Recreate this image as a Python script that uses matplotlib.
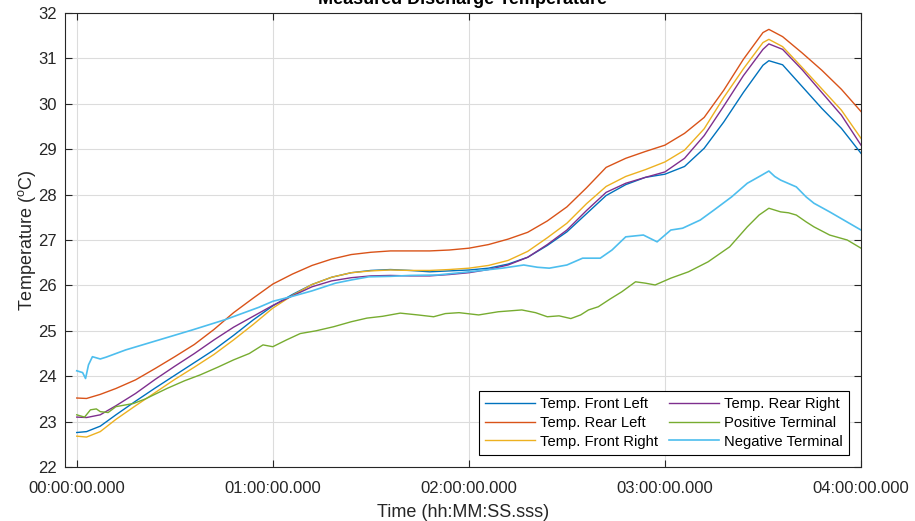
import matplotlib
matplotlib.use("Agg")
from matplotlib import pyplot as plt

# time in hours
t_smooth = [0, 0.05, 0.12, 0.2, 0.3, 0.4, 0.5, 0.6, 0.7, 0.8, 0.9, 1.0, 1.1, 1.2, 1.3,
            1.4, 1.5, 1.6, 1.7, 1.8, 1.9, 2.0, 2.1, 2.2, 2.3, 2.4, 2.5, 2.6, 2.7, 2.8,
            2.9, 3.0, 3.1, 3.2, 3.3, 3.4, 3.5, 3.53, 3.6, 3.7, 3.8, 3.9, 4.0]

front_left = [22.76, 22.78, 22.9, 23.15, 23.45, 23.74, 24.02, 24.3, 24.58, 24.9, 25.24,
              25.55, 25.8, 26.02, 26.18, 26.28, 26.33, 26.35, 26.33, 26.3, 26.32, 26.34,
              26.38, 26.47, 26.62, 26.88, 27.18, 27.58, 27.98, 28.22, 28.38, 28.45, 28.62,
              29.02, 29.6, 30.25, 30.85, 30.95, 30.86, 30.38, 29.9, 29.46, 28.91]
rear_left = [23.52, 23.51, 23.6, 23.73, 23.92, 24.17, 24.43, 24.7, 25.03, 25.4, 25.72,
             26.03, 26.25, 26.44, 26.58, 26.68, 26.73, 26.76, 26.76, 26.76, 26.78, 26.82,
             26.9, 27.02, 27.17, 27.42, 27.73, 28.15, 28.6, 28.8, 28.95, 29.09, 29.35,
             29.7, 30.3, 30.98, 31.57, 31.64, 31.48, 31.12, 30.74, 30.32, 29.83]
front_right = [22.68, 22.66, 22.78, 23.05, 23.35, 23.64, 23.93, 24.2, 24.48, 24.8, 25.14,
               25.5, 25.78, 26.02, 26.18, 26.28, 26.32, 26.34, 26.33, 26.33, 26.35, 26.38,
               26.44, 26.55, 26.75, 27.05, 27.37, 27.8, 28.18, 28.4, 28.55, 28.72, 28.98,
               29.45, 30.14, 30.77, 31.35, 31.42, 31.26, 30.8, 30.33, 29.86, 29.24]
rear_right = [23.1, 23.09, 23.15, 23.35, 23.62, 23.93, 24.22, 24.5, 24.8, 25.08, 25.32,
              25.56, 25.77, 25.97, 26.1, 26.17, 26.21, 26.22, 26.21, 26.21, 26.24, 26.28,
              26.35, 26.45, 26.62, 26.9, 27.22, 27.65, 28.05, 28.25, 28.38, 28.5, 28.8,
              29.3, 29.95, 30.62, 31.2, 31.32, 31.2, 30.75, 30.25, 29.75, 29.09]

t_pos = [0, 0.04, 0.07, 0.1, 0.12, 0.16, 0.2, 0.29, 0.35, 0.46, 0.55, 0.63, 0.72, 0.8,
         0.88, 0.95, 1.0, 1.07, 1.14, 1.22, 1.31, 1.4, 1.48, 1.56, 1.65, 1.74, 1.82,
         1.88, 1.95, 2.05, 2.15, 2.27, 2.34, 2.4, 2.46, 2.52, 2.57, 2.61, 2.66, 2.72,
         2.78, 2.85, 2.9, 2.95, 3.03, 3.12, 3.22, 3.28, 3.33, 3.42, 3.48, 3.53, 3.59,
         3.63, 3.67, 3.72, 3.76, 3.84, 3.93, 4.0]
positive_terminal = [23.15, 23.1, 23.26, 23.28, 23.22, 23.2, 23.33, 23.4, 23.5, 23.73,
                     23.9, 24.03, 24.2, 24.36, 24.5, 24.69, 24.65, 24.8, 24.94, 25.0,
                     25.09, 25.2, 25.28, 25.32, 25.39, 25.35, 25.31, 25.38, 25.4, 25.35,
                     25.42, 25.46, 25.4, 25.31, 25.33, 25.27, 25.35, 25.46, 25.53, 25.7,
                     25.86, 26.08, 26.05, 26.01, 26.16, 26.3, 26.52, 26.7, 26.85, 27.29,
                     27.55, 27.7, 27.62, 27.6, 27.55, 27.4, 27.29, 27.11, 27.0, 26.82]

t_neg = [0, 0.03, 0.045, 0.06, 0.08, 0.12, 0.15, 0.25, 0.42, 0.59, 0.76, 0.93, 1.0, 1.1,
         1.2, 1.32, 1.4, 1.49, 1.6, 1.7, 1.84, 2.0, 2.17, 2.28, 2.35, 2.41, 2.5, 2.58,
         2.67, 2.73, 2.8, 2.89, 2.96, 3.03, 3.09, 3.18, 3.25, 3.34, 3.42, 3.49, 3.53,
         3.56, 3.59, 3.67, 3.72, 3.76, 3.84, 3.92, 4.0]
negative_terminal = [24.12, 24.08, 23.95, 24.25, 24.43, 24.38, 24.42, 24.58, 24.8, 25.02,
                     25.25, 25.52, 25.65, 25.76, 25.88, 26.05, 26.12, 26.19, 26.2, 26.22,
                     26.23, 26.3, 26.38, 26.45, 26.4, 26.38, 26.45, 26.6, 26.6, 26.78,
                     27.07, 27.11, 26.96, 27.22, 27.26, 27.44, 27.66, 27.95, 28.25, 28.42,
                     28.52, 28.4, 28.32, 28.17, 27.95, 27.81, 27.62, 27.42, 27.22]

tick_hours = [0, 1, 2, 3, 4]
tick_labels = ['00:00:00.000', '01:00:00.000', '02:00:00.000', '03:00:00.000', '04:00:00.000']

plt.rcParams['font.family'] = ['Liberation Sans', 'DejaVu Sans']
dark = '#262626'

fig = plt.figure(figsize=(9.15, 5.21), dpi=100)
ax = fig.add_axes([0.071, 0.1036, 0.870, 0.8714])

ax.plot(t_smooth, front_left, color='#0072BD', lw=1.0, label='Temp. Front Left')
ax.plot(t_smooth, rear_left, color='#D95319', lw=1.0, label='Temp. Rear Left')
ax.plot(t_smooth, front_right, color='#EDB120', lw=1.0, label='Temp. Front Right')
ax.plot(t_smooth, rear_right, color='#7E2F8E', lw=1.0, label='Temp. Rear Right')
ax.plot(t_pos, positive_terminal, color='#77AC30', lw=1.0, label='Positive Terminal')
ax.plot(t_neg, negative_terminal, color='#4DBEEE', lw=1.2, label='Negative Terminal')

ax.set_xlim(-0.06, 4)
ax.set_ylim(22, 32)
ax.set_xticks(tick_hours)
ax.set_xticklabels(tick_labels)
ax.set_yticks(range(22, 33))

ax.grid(True, color='#dcdcdc', lw=0.8)
ax.set_axisbelow(True)
for s in ax.spines.values():
    s.set_color(dark)
    s.set_linewidth(0.8)
ax.tick_params(direction='in', length=5, width=0.8, colors=dark, labelsize=12,
               top=True, right=True)
ax.tick_params(axis='x', pad=10)
ax.tick_params(axis='y', pad=6)

ax.set_xlabel('Time (hh:MM:SS.sss)', fontsize=13, color=dark, labelpad=6)
ax.set_ylabel('Temperature ($\\mathregular{^{o}}$C)', fontsize=13, color=dark, labelpad=0)
ax.set_title('Measured Discharge Temperature', fontsize=13, fontweight='bold', pad=6.5)

leg = ax.legend(ncol=2, loc='lower right', fontsize=10.6, frameon=True, fancybox=False,
                edgecolor='black', handlelength=3.4, handletextpad=0.3,
                columnspacing=0.8, labelspacing=0.32, borderpad=0.4, borderaxespad=0.85)
leg.get_frame().set_linewidth(0.8)
leg.get_frame().set_alpha(1.0)

fig.savefig('out.png', dpi=100)
